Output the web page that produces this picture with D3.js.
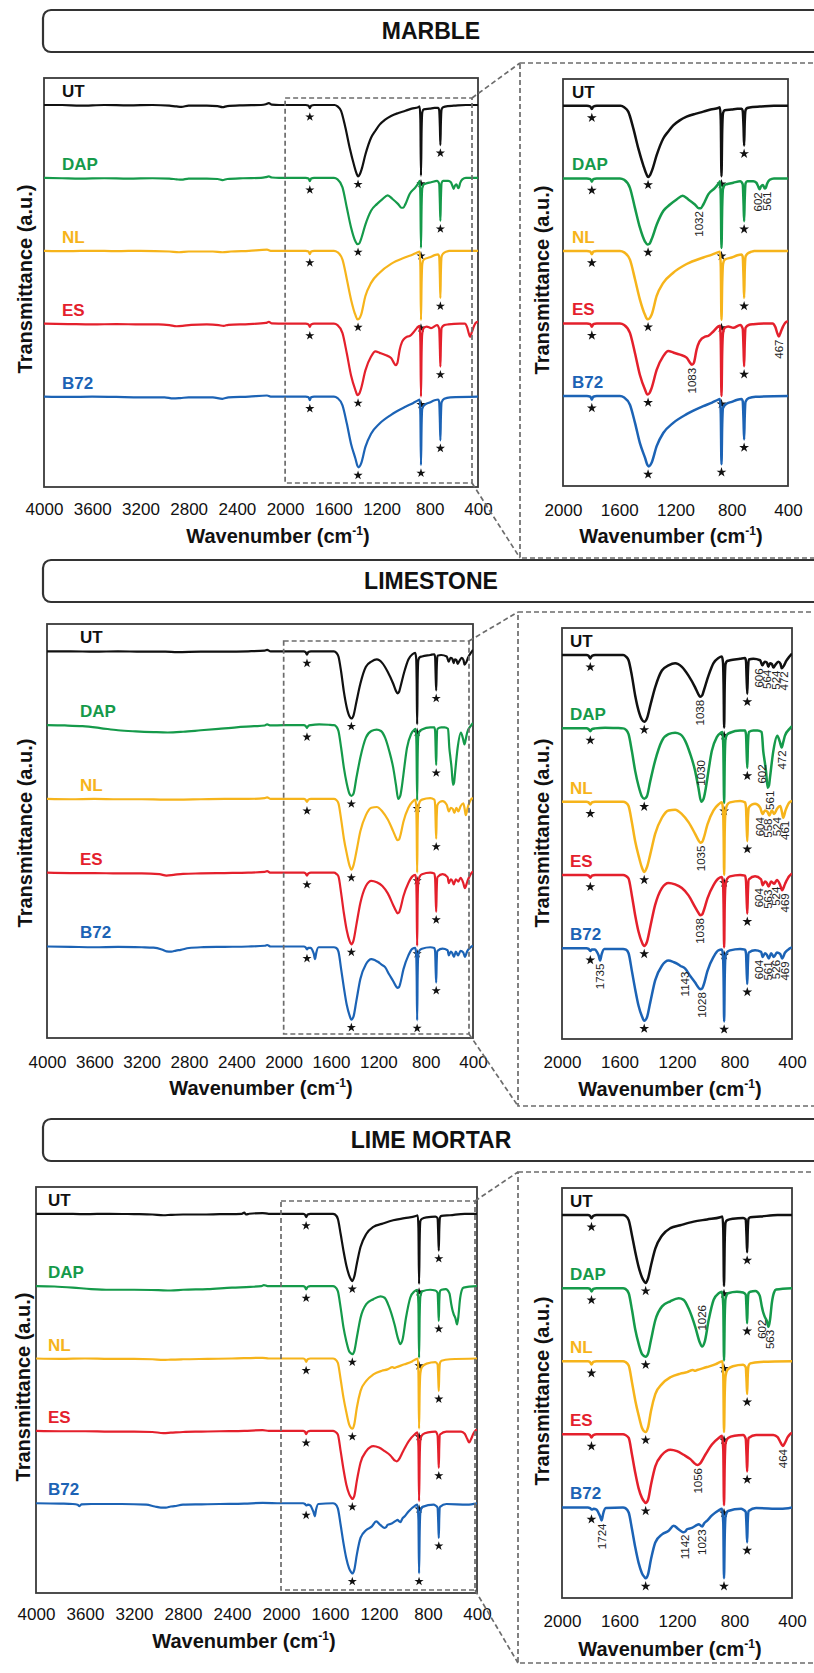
<!DOCTYPE html>
<html>
<head>
<meta charset="utf-8">
<script src="https://cdn.jsdelivr.net/npm/d3@7"></script>
<style>
body { margin: 0; background: #fff; }
text { font-family: "Liberation Sans", Arial, Helvetica, sans-serif; }
</style>
</head>
<body>
<div id="chart"></div>
<script>

// samples, colours and ticks
const samples = ["UT", "DAP", "NL", "ES", "B72"];
const sampleColors = ["#111111", "#159a4a", "#f6b41b", "#e4202c", "#1c63b5"];
const sampleOffsets = [0, -1, -2, -3, -4];
const sectionNames = ["MARBLE", "LIMESTONE", "LIME MORTAR"];
const ticksFull = [4000, 3600, 3200, 2800, 2400, 2000, 1600, 1200, 800, 400];
const ticksZoom = [2000, 1600, 1200, 800, 400];

// spectra: [wavenumber, offset transmittance]
const marbleUT = [[4000,0],[3850,0],[3700,-0.01],[3500,0],[3300,-0.005],[3100,0],[2960,-0.01],[2900,-0.02],[2860,-0.025],[2800,-0.01],[2650,-0.01],[2560,-0.015],[2520,-0.03],[2480,-0.015],[2350,-0.005],[2200,0],[2160,0.01],[2135,0.025],[2110,0.005],[2050,0],[1900,0],[1830,0],[1805,-0.01],[1795,-0.045],[1785,-0.01],[1760,0],[1590,0],[1565,-0.02],[1536,-0.08],[1500,-0.31],[1464,-0.59],[1429,-0.82],[1405,-0.95],[1395,-0.98],[1380,-0.95],[1365,-0.88],[1334,-0.68],[1287,-0.45],[1250,-0.35],[1216,-0.27],[1170,-0.2],[1121,-0.15],[1060,-0.11],[1002,-0.08],[950,-0.05],[896,-0.03],[884,-0.02],[878,-0.2],[873,-0.97],[868,-0.35],[862,-0.1],[850,-0.06],[800,-0.05],[760,-0.04],[730,-0.04],[722,-0.07],[716,-0.3],[712,-0.55],[708,-0.25],[702,-0.06],[690,-0.03],[650,-0.015],[600,-0.01],[500,0],[400,0]];
const marbleDAP = [[4000,0],[3850,-0.005],[3700,-0.01],[3500,-0.005],[3300,-0.01],[3100,-0.005],[2960,-0.01],[2900,-0.02],[2860,-0.025],[2800,-0.01],[2650,-0.01],[2560,-0.015],[2520,-0.03],[2480,-0.015],[2350,-0.005],[2200,0],[2160,0.01],[2135,0.02],[2110,0.005],[2050,0],[1900,0],[1830,0],[1805,-0.01],[1795,-0.045],[1785,-0.01],[1760,0],[1595,0],[1565,-0.02],[1524,-0.13],[1488,-0.41],[1453,-0.68],[1417,-0.87],[1400,-0.91],[1385,-0.9],[1370,-0.84],[1334,-0.64],[1287,-0.45],[1239,-0.36],[1192,-0.29],[1149,-0.24],[1109,-0.29],[1062,-0.36],[1035,-0.41],[1020,-0.41],[1002,-0.36],[967,-0.22],[919,-0.13],[890,-0.06],[884,-0.04],[878,-0.25],[873,-0.96],[868,-0.4],[862,-0.14],[850,-0.09],[836,-0.08],[789,-0.06],[740,-0.04],[722,-0.08],[716,-0.35],[712,-0.59],[708,-0.3],[702,-0.07],[690,-0.04],[647,-0.04],[625,-0.06],[610,-0.12],[602,-0.15],[592,-0.11],[578,-0.09],[565,-0.14],[558,-0.13],[548,-0.07],[530,-0.02],[500,0],[400,0]];
const marbleNL = [[4000,0],[3800,-0.005],[3600,0],[3400,-0.005],[3200,0],[2960,-0.01],[2880,-0.02],[2800,-0.01],[2600,-0.01],[2520,-0.02],[2450,-0.01],[2300,0],[2150,0.015],[2120,0],[2000,0],[1830,0],[1805,-0.01],[1795,-0.045],[1785,-0.01],[1760,0],[1595,0],[1565,-0.02],[1524,-0.12],[1488,-0.39],[1453,-0.67],[1417,-0.88],[1400,-0.94],[1385,-0.93],[1370,-0.88],[1334,-0.62],[1287,-0.44],[1216,-0.3],[1121,-0.18],[1002,-0.09],[940,-0.05],[900,-0.02],[884,-0.01],[878,-0.22],[873,-0.95],[868,-0.45],[862,-0.18],[850,-0.12],[800,-0.09],[760,-0.06],[730,-0.05],[722,-0.08],[716,-0.38],[712,-0.65],[708,-0.3],[702,-0.08],[690,-0.04],[660,-0.01],[640,0],[400,0]];
const marbleES = [[4000,0],[3800,-0.005],[3600,-0.01],[3400,-0.005],[3200,-0.01],[3050,-0.01],[2960,-0.02],[2900,-0.035],[2850,-0.03],[2780,-0.015],[2650,-0.01],[2550,-0.02],[2510,-0.03],[2470,-0.015],[2300,-0.005],[2160,0.01],[2135,0.025],[2110,0.005],[2000,0],[1830,0],[1805,-0.01],[1795,-0.045],[1785,-0.01],[1760,0],[1595,0],[1565,-0.02],[1524,-0.13],[1488,-0.41],[1453,-0.71],[1417,-0.91],[1400,-0.98],[1385,-0.96],[1370,-0.89],[1334,-0.64],[1287,-0.45],[1251,-0.38],[1216,-0.4],[1168,-0.43],[1121,-0.47],[1100,-0.53],[1083,-0.57],[1069,-0.54],[1050,-0.36],[1030,-0.25],[1014,-0.21],[990,-0.18],[967,-0.17],[931,-0.11],[896,-0.04],[884,-0.03],[878,-0.25],[873,-1.0],[868,-0.4],[862,-0.13],[850,-0.06],[825,-0.04],[789,-0.06],[740,-0.02],[722,-0.07],[716,-0.35],[712,-0.59],[708,-0.3],[702,-0.06],[680,-0.02],[647,-0.01],[550,0],[510,0],[490,-0.05],[475,-0.14],[465,-0.18],[452,-0.12],[435,-0.04],[420,0.01],[400,0.03]];
const marbleB72 = [[4000,0],[3800,-0.005],[3600,0],[3400,-0.005],[3200,-0.01],[3000,-0.01],[2930,-0.025],[2870,-0.02],[2800,-0.01],[2600,-0.01],[2520,-0.03],[2470,-0.01],[2300,0],[2150,0.015],[2120,0],[2000,0],[1830,0],[1805,-0.01],[1795,-0.05],[1785,-0.01],[1760,0],[1595,0],[1565,-0.02],[1524,-0.12],[1488,-0.37],[1453,-0.65],[1417,-0.85],[1400,-0.95],[1390,-0.97],[1370,-0.92],[1334,-0.69],[1287,-0.51],[1216,-0.37],[1121,-0.25],[1002,-0.14],[940,-0.09],[896,-0.05],[884,-0.04],[878,-0.25],[873,-0.94],[868,-0.4],[862,-0.16],[840,-0.11],[800,-0.08],[760,-0.05],[730,-0.04],[722,-0.07],[716,-0.35],[712,-0.6],[708,-0.3],[702,-0.08],[680,-0.03],[630,-0.01],[400,0]];

const limeUT = [[4000,0],[3800,0],[3600,-0.005],[3400,0],[3200,-0.005],[3000,-0.005],[2900,-0.01],[2700,-0.005],[2500,-0.005],[2300,0],[2160,0.01],[2140,0.02],[2110,0],[2000,0],[1830,0],[1815,-0.01],[1803,-0.045],[1792,-0.01],[1770,0],[1575,0],[1555,-0.02],[1537,-0.07],[1514,-0.28],[1491,-0.55],[1467,-0.76],[1444,-0.88],[1428,-0.91],[1410,-0.87],[1386,-0.69],[1352,-0.44],[1305,-0.21],[1259,-0.14],[1213,-0.11],[1166,-0.16],[1120,-0.28],[1074,-0.44],[1050,-0.54],[1039,-0.57],[1025,-0.55],[1016,-0.5],[981,-0.28],[946,-0.11],[912,-0.04],[888,-0.02],[880,-0.1],[876,-0.4],[872,-0.99],[868,-0.4],[862,-0.12],[850,-0.08],[831,-0.07],[761,-0.05],[727,-0.04],[720,-0.08],[716,-0.3],[711,-0.53],[707,-0.25],[700,-0.06],[669,-0.05],[622,-0.07],[606,-0.14],[590,-0.09],[575,-0.1],[564,-0.16],[553,-0.11],[540,-0.12],[530,-0.17],[518,-0.14],[495,-0.09],[480,-0.12],[472,-0.18],[455,-0.14],[440,-0.08],[418,-0.02],[400,0.02]];
const limeDAP = [[4000,0],[3850,-0.005],[3700,-0.015],[3550,-0.04],[3400,-0.07],[3250,-0.085],[3100,-0.095],[2980,-0.1],[2850,-0.09],[2700,-0.07],[2550,-0.05],[2400,-0.03],[2250,-0.015],[2160,-0.005],[2140,0.01],[2110,-0.005],[2000,0],[1830,0],[1815,-0.01],[1803,-0.04],[1792,-0.01],[1770,0],[1700,0.01],[1620,0.005],[1575,0],[1555,-0.02],[1537,-0.08],[1514,-0.31],[1491,-0.58],[1467,-0.79],[1444,-0.93],[1428,-0.96],[1410,-0.93],[1386,-0.72],[1352,-0.44],[1305,-0.17],[1259,-0.08],[1213,-0.06],[1178,-0.08],[1143,-0.17],[1108,-0.35],[1074,-0.58],[1051,-0.81],[1032,-1.0],[1015,-0.96],[1000,-0.82],[988,-0.67],[958,-0.31],[923,-0.12],[895,-0.06],[884,-0.05],[878,-0.25],[872,-1.02],[868,-0.45],[862,-0.14],[850,-0.08],[831,-0.06],[761,-0.03],[727,-0.03],[720,-0.08],[716,-0.3],[711,-0.54],[707,-0.25],[700,-0.05],[669,-0.03],[640,-0.03],[611,-0.05],[600,-0.31],[590,-0.45],[581,-0.58],[569,-0.81],[560,-0.78],[553,-0.67],[530,-0.31],[502,-0.1],[485,-0.18],[472,-0.26],[460,-0.18],[449,-0.1],[414,0],[400,0.03]];
const limeNL = [[4000,0],[3800,-0.005],[3600,0],[3400,-0.005],[3200,-0.005],[3000,-0.01],[2900,-0.01],[2700,-0.005],[2500,0],[2300,0],[2160,0.01],[2140,0.02],[2110,0],[2000,0],[1830,0],[1815,-0.01],[1803,-0.04],[1792,-0.01],[1770,0],[1575,0],[1555,-0.015],[1537,-0.06],[1514,-0.28],[1491,-0.54],[1467,-0.74],[1444,-0.9],[1428,-0.96],[1410,-0.9],[1386,-0.72],[1352,-0.44],[1305,-0.22],[1259,-0.12],[1213,-0.11],[1166,-0.17],[1120,-0.28],[1074,-0.44],[1050,-0.53],[1039,-0.56],[1025,-0.55],[1016,-0.51],[988,-0.31],[946,-0.12],[912,-0.04],[888,-0.01],[880,-0.1],[876,-0.4],[872,-1.0],[868,-0.4],[862,-0.12],[850,-0.04],[831,-0.01],[761,0.01],[727,-0.01],[720,-0.08],[716,-0.3],[711,-0.54],[707,-0.25],[700,-0.08],[680,-0.04],[657,-0.03],[622,-0.08],[604,-0.17],[588,-0.12],[570,-0.14],[558,-0.19],[540,-0.12],[524,-0.17],[505,-0.1],[482,-0.06],[470,-0.14],[461,-0.22],[445,-0.12],[418,-0.01],[400,0.01]];
const limeES = [[4000,0],[3800,-0.005],[3600,-0.005],[3400,-0.01],[3200,-0.01],[3050,-0.02],[2990,-0.04],[2930,-0.03],[2850,-0.015],[2700,-0.01],[2500,-0.005],[2300,0],[2160,0.01],[2140,0.02],[2110,0],[2000,0],[1830,0],[1815,-0.01],[1803,-0.04],[1792,-0.01],[1770,0],[1575,0],[1555,-0.015],[1537,-0.05],[1514,-0.28],[1491,-0.55],[1467,-0.78],[1444,-0.92],[1428,-0.97],[1410,-0.92],[1386,-0.71],[1352,-0.41],[1305,-0.18],[1259,-0.11],[1213,-0.13],[1166,-0.18],[1120,-0.28],[1074,-0.44],[1050,-0.52],[1039,-0.55],[1025,-0.54],[1016,-0.5],[988,-0.32],[946,-0.14],[912,-0.05],[888,-0.03],[880,-0.1],[876,-0.4],[872,-0.99],[868,-0.4],[862,-0.12],[850,-0.05],[831,-0.02],[761,0],[727,-0.01],[720,-0.08],[716,-0.3],[711,-0.53],[707,-0.25],[700,-0.06],[657,-0.02],[615,-0.06],[604,-0.14],[588,-0.09],[575,-0.11],[563,-0.16],[545,-0.09],[524,-0.12],[505,-0.07],[482,-0.14],[469,-0.21],[448,-0.12],[420,-0.02],[400,0.02]];
const limeB72 = [[4000,0],[3800,-0.005],[3600,-0.01],[3400,-0.005],[3200,-0.01],[3100,-0.015],[3030,-0.04],[2990,-0.065],[2950,-0.07],[2910,-0.055],[2870,-0.045],[2800,-0.02],[2700,-0.01],[2500,-0.005],[2300,0],[2160,0.01],[2140,0.02],[2110,0],[2000,0],[1830,0],[1815,-0.01],[1803,-0.04],[1792,-0.02],[1770,-0.02],[1757,-0.05],[1745,-0.1],[1735,-0.17],[1724,-0.08],[1705,-0.01],[1575,-0.01],[1555,-0.02],[1537,-0.07],[1514,-0.31],[1491,-0.56],[1467,-0.79],[1444,-0.93],[1428,-0.99],[1410,-0.95],[1386,-0.74],[1352,-0.44],[1305,-0.24],[1259,-0.17],[1224,-0.19],[1200,-0.21],[1178,-0.24],[1143,-0.28],[1108,-0.38],[1074,-0.47],[1050,-0.54],[1039,-0.56],[1025,-0.55],[1016,-0.51],[988,-0.31],[946,-0.12],[912,-0.03],[888,-0.02],[880,-0.1],[876,-0.4],[872,-1.0],[868,-0.4],[862,-0.1],[850,-0.05],[831,-0.03],[761,-0.01],[727,-0.02],[720,-0.07],[716,-0.28],[711,-0.49],[707,-0.22],[700,-0.06],[657,-0.03],[615,-0.05],[604,-0.12],[588,-0.07],[575,-0.09],[561,-0.14],[545,-0.07],[526,-0.12],[505,-0.06],[482,-0.08],[469,-0.14],[448,-0.06],[420,-0.01],[400,0.01]];

const mortarUT = [[4000,0],[3800,0],[3600,-0.005],[3400,0],[3200,-0.005],[3050,-0.01],[2960,-0.02],[2900,-0.015],[2800,-0.01],[2650,-0.01],[2500,-0.005],[2320,0],[2300,0.015],[2285,-0.01],[2260,0],[2150,0.01],[2100,0],[2000,0],[1820,0],[1805,-0.01],[1795,-0.045],[1782,-0.01],[1760,0],[1575,0],[1559,-0.01],[1536,-0.07],[1513,-0.28],[1490,-0.51],[1467,-0.71],[1444,-0.85],[1428,-0.91],[1418,-0.93],[1402,-0.87],[1381,-0.69],[1351,-0.46],[1304,-0.28],[1246,-0.18],[1177,-0.14],[1084,-0.09],[991,-0.06],[899,-0.03],[884,-0.02],[878,-0.2],[873,-0.97],[868,-0.35],[862,-0.1],[850,-0.07],[811,-0.05],[740,-0.04],[722,-0.06],[716,-0.3],[712,-0.51],[708,-0.22],[702,-0.05],[690,-0.03],[620,-0.02],[500,0],[400,0]];
const mortarDAP = [[4000,0],[3850,-0.005],[3700,-0.02],[3550,-0.04],[3400,-0.05],[3200,-0.05],[3000,-0.055],[2900,-0.06],[2800,-0.05],[2600,-0.04],[2400,-0.02],[2250,-0.01],[2160,0],[2140,0.015],[2110,0],[2000,0],[1820,0],[1805,-0.01],[1795,-0.045],[1782,-0.01],[1760,0],[1575,0],[1559,-0.01],[1536,-0.07],[1513,-0.3],[1490,-0.57],[1467,-0.76],[1444,-0.9],[1428,-0.93],[1418,-0.94],[1402,-0.9],[1381,-0.71],[1351,-0.44],[1304,-0.25],[1246,-0.18],[1188,-0.14],[1154,-0.16],[1119,-0.28],[1073,-0.53],[1042,-0.74],[1026,-0.8],[1008,-0.74],[980,-0.44],[945,-0.16],[910,-0.07],[887,-0.05],[878,-0.25],[873,-0.99],[868,-0.4],[862,-0.14],[845,-0.07],[783,-0.05],[740,-0.06],[722,-0.09],[716,-0.3],[712,-0.48],[708,-0.22],[702,-0.07],[690,-0.05],[655,-0.04],[625,-0.1],[610,-0.25],[602,-0.32],[590,-0.39],[575,-0.45],[563,-0.53],[552,-0.42],[540,-0.2],[525,-0.06],[510,-0.02],[400,0]];
const mortarNL = [[4000,0],[3800,-0.005],[3600,0],[3400,-0.005],[3200,-0.005],[3050,-0.01],[2960,-0.02],[2900,-0.015],[2800,-0.01],[2600,-0.005],[2400,0],[2150,0.01],[2100,0],[2000,0],[1820,0],[1805,-0.01],[1795,-0.045],[1782,-0.01],[1760,0],[1575,0],[1559,-0.01],[1536,-0.06],[1513,-0.29],[1490,-0.54],[1467,-0.74],[1444,-0.91],[1428,-0.96],[1418,-0.97],[1402,-0.91],[1381,-0.68],[1351,-0.45],[1304,-0.31],[1246,-0.22],[1177,-0.17],[1130,-0.15],[1090,-0.12],[1075,-0.13],[1060,-0.12],[991,-0.08],[930,-0.04],[899,-0.01],[884,0],[878,-0.2],[873,-0.97],[868,-0.45],[862,-0.2],[850,-0.12],[811,-0.07],[740,-0.05],[722,-0.08],[716,-0.28],[712,-0.45],[708,-0.2],[702,-0.06],[690,-0.03],[620,-0.01],[400,0]];
const mortarES = [[4000,0],[3800,-0.005],[3600,-0.005],[3400,-0.01],[3200,-0.01],[3050,-0.015],[2960,-0.03],[2900,-0.025],[2800,-0.015],[2650,-0.01],[2500,-0.005],[2300,0],[2150,0.01],[2100,0],[2000,0],[1820,0],[1805,-0.01],[1795,-0.045],[1782,-0.01],[1760,0],[1575,0],[1559,-0.01],[1536,-0.05],[1513,-0.28],[1490,-0.53],[1467,-0.74],[1444,-0.87],[1428,-0.92],[1418,-0.94],[1402,-0.9],[1381,-0.69],[1351,-0.44],[1304,-0.28],[1246,-0.21],[1200,-0.23],[1154,-0.28],[1107,-0.34],[1070,-0.41],[1056,-0.42],[1040,-0.4],[1003,-0.28],[957,-0.14],[910,-0.05],[887,-0.02],[878,-0.22],[873,-0.97],[868,-0.4],[862,-0.12],[845,-0.05],[800,-0.02],[740,-0.01],[722,-0.06],[716,-0.3],[712,-0.51],[708,-0.22],[702,-0.05],[650,-0.01],[530,-0.01],[500,-0.04],[480,-0.11],[464,-0.16],[450,-0.12],[430,-0.04],[415,0],[400,0.02]];
const mortarB72 = [[4000,0],[3800,-0.005],[3700,-0.01],[3660,-0.02],[3645,-0.04],[3630,-0.015],[3550,-0.01],[3300,-0.01],[3100,-0.02],[3030,-0.045],[2980,-0.06],[2940,-0.06],[2900,-0.045],[2870,-0.04],[2800,-0.02],[2650,-0.015],[2500,-0.01],[2300,-0.005],[2150,0.005],[2000,0],[1820,0],[1805,-0.01],[1793,-0.03],[1780,-0.02],[1760,-0.03],[1745,-0.08],[1735,-0.12],[1724,-0.18],[1714,-0.09],[1695,-0.01],[1575,0],[1559,-0.01],[1536,-0.07],[1513,-0.3],[1490,-0.55],[1467,-0.76],[1444,-0.9],[1428,-0.95],[1418,-0.97],[1402,-0.92],[1381,-0.71],[1351,-0.48],[1304,-0.37],[1258,-0.32],[1223,-0.25],[1189,-0.3],[1158,-0.34],[1142,-0.33],[1130,-0.3],[1096,-0.28],[1060,-0.24],[1049,-0.23],[1035,-0.25],[1023,-0.26],[1012,-0.22],[990,-0.18],[957,-0.11],[910,-0.04],[887,-0.02],[878,-0.22],[873,-0.97],[868,-0.4],[862,-0.12],[845,-0.05],[754,-0.02],[740,-0.03],[722,-0.06],[716,-0.28],[712,-0.48],[708,-0.2],[702,-0.05],[650,-0.01],[480,-0.02],[400,0]];

// calcite bands marked with a star
const marbleStars = [1795, 1395, 873, 712];
const limeStars = [1803, 1428, 872, 711];
const mortarStars = [1795, 1418, 873, 712];

// peak labels in the zoomed panels (one list per sample)
const marblePeaks = [[], [1032, 602, 561], [], [1083, 467], []];
const limePeaks = [[1038, 606, 564, 524, 472], [1030, 602, 561, 472], [1035, 604, 558, 524, 461], [1038, 604, 563, 524, 469], [1735, 1143, 1028, 604, 561, 526, 469]];
const mortarPeaks = [[], [1026, 602, 563], [], [1056, 464], [1724, 1142, 1023]];
const peaksAbove = [1030, 1026];

var spectra = [
	[marbleUT, marbleDAP, marbleNL, marbleES, marbleB72],
	[limeUT, limeDAP, limeNL, limeES, limeB72],
	[mortarUT, mortarDAP, mortarNL, mortarES, mortarB72]
];
var stars = [marbleStars, limeStars, mortarStars];
var peaks = [marblePeaks, limePeaks, mortarPeaks];

var width = 814,
height = 1673,
yDomain = [-5.24, 0.37];

var layouts = [
	{ titleY: 10,
	  L: {x0:44, x1:478, y0:78, y1:487, tickY:515, axisY:543, axisX:278, yt:[25,279], labelX:62},
	  R: {x0:563, x1:788, y0:79, y1:486, tickY:516, axisY:543, axisX:671, yt:[542,280], labelX:572},
	  inner: {x1:472, y0:98, y1:483}, outer: {x0:520, y0:63, y1:558} },
	{ titleY: 560,
	  L: {x0:47, x1:473, y0:624, y1:1038, tickY:1068, axisY:1095, axisX:261, yt:[25,833], labelX:80},
	  R: {x0:562, x1:792, y0:628, y1:1039, tickY:1068, axisY:1096, axisX:670, yt:[542,833], labelX:570},
	  inner: {x1:469, y0:641, y1:1034}, outer: {x0:518, y0:612, y1:1106} },
	{ titleY: 1119,
	  L: {x0:36, x1:477, y0:1187, y1:1593, tickY:1620, axisY:1648, axisX:244, yt:[23,1387], labelX:48},
	  R: {x0:562, x1:792, y0:1188, y1:1598, tickY:1627, axisY:1656, axisX:670, yt:[542,1391], labelX:570},
	  inner: {x1:475, y0:1201, y1:1590}, outer: {x0:518, y0:1172, y1:1663} }
];

var svg = d3.select("#chart")
.append("svg")
.attr("width", width)
.attr("height", height);

var dashColor = "#6c6c6c";

// piecewise lookup of a spectrum
function interp(data) {
	return d3.scaleLinear()
	.domain(data.map(d => d[0]))
	.range(data.map(d => d[1]));
}

function localMin(data, wn, w) {
	var m = Infinity;
	data.forEach(function(d) {
		if (Math.abs(d[0] - wn) <= w && d[1] < m) m = d[1];
	});
	return m === Infinity ? interp(data)(wn) : m;
}

// push overlapping labels apart around their common centre
function spread(xs, gap) {
	var groups = xs.map(x => ({n: 1, c: x}));
	var changed = true;
	while (changed) {
		changed = false;
		for (var i = 0; i < groups.length - 1; i++) {
			var a = groups[i], b = groups[i + 1];
			var aRight = a.c + (a.n - 1) * gap / 2,
			bLeft = b.c - (b.n - 1) * gap / 2;
			if (bLeft - aRight < gap) {
				var n = a.n + b.n;
				groups.splice(i, 2, {n: n, c: (a.c * a.n + b.c * b.n) / n});
				changed = true;
				break;
			}
		}
	}
	var out = [];
	groups.forEach(function(g) {
		for (var k = 0; k < g.n; k++) out.push(g.c - (g.n - 1) * gap / 2 + k * gap);
	});
	return out;
}

function axisTitle(g, x, y) {
	var t = g.append("text")
	.attr("x", x)
	.attr("y", y)
	.attr("text-anchor", "middle")
	.style("font-size", "20px")
	.style("font-weight", "bold")
	.attr("fill", "#111");
	t.append("tspan").text("Wavenumber (cm");
	t.append("tspan").attr("dy", -8).style("font-size", "12px").text("-1");
	t.append("tspan").attr("dy", 8).text(")");
}

//Draw one spectra panel
function drawPanel(si, box, zoomed) {
	var data = spectra[si];
	var g = svg.append("g");
	var clipId = "clip" + si + (zoomed ? "z" : "f");

	var xScale = d3.scaleLinear()
	.domain(zoomed ? [2000, 400] : [4000, 400])
	.range([box.x0, box.x1]);

	var yScale = d3.scaleLinear()
	.domain(yDomain)
	.range([box.y1, box.y0]);

	g.append("clipPath")
	.attr("id", clipId)
	.append("rect")
	.attr("x", box.x0)
	.attr("y", box.y0)
	.attr("width", box.x1 - box.x0)
	.attr("height", box.y1 - box.y0);

	//Frame
	g.append("rect")
	.attr("x", box.x0)
	.attr("y", box.y0)
	.attr("width", box.x1 - box.x0)
	.attr("height", box.y1 - box.y0)
	.attr("fill", "none")
	.attr("stroke", "#3a3a3a")
	.attr("stroke-width", 1.8);

	//Lines
	data.forEach(function(series, i) {
		var line = d3.line()
		.x(d => xScale(d[0]))
		.y(d => yScale(d[1] + sampleOffsets[i]))
		.curve(d3.curveMonotoneX);

		g.append("path")
		.attr("d", line(series))
		.attr("clip-path", "url(#" + clipId + ")")
		.attr("fill", "none")
		.attr("stroke", sampleColors[i])
		.attr("stroke-width", zoomed ? 2.5 : 2.2)
		.attr("stroke-linejoin", "round");

		//Sample name
		g.append("text")
		.attr("x", box.labelX)
		.attr("y", yScale(sampleOffsets[i]) - 8)
		.attr("fill", sampleColors[i])
		.style("font-size", "17px")
		.style("font-weight", "bold")
		.text(samples[i]);

		//Stars under the calcite bands
		stars[si].forEach(function(wn) {
			var yMin = yScale(localMin(series, wn, 10) + sampleOffsets[i]);
			var yBase = yScale(sampleOffsets[i]);
			g.append("path")
			.attr("d", d3.symbol(d3.symbolStar, zoomed ? 30 : 26)())
			.attr("transform", `translate(${xScale(wn)},${Math.max(yMin + 8, yBase + 12)})`)
			.attr("fill", "#111");
		});

		//Peak labels
		if (zoomed) {
			var list = peaks[si][i].slice().sort((a, b) => b - a);
			var xs = spread(list.map(wn => xScale(wn)), 8.5);
			list.forEach(function(wn, k) {
				var above = peaksAbove.indexOf(wn) >= 0;
				var yMin = yScale(localMin(series, wn, 12) + sampleOffsets[i]);
				g.append("text")
				.attr("transform", `translate(${xs[k]},${above ? yMin - 16 : yMin + 3}) rotate(-90)`)
				.attr("dy", "0.35em")
				.attr("text-anchor", above ? "start" : "end")
				.attr("fill", "#222")
				.style("font-size", "11.5px")
				.text(wn);
			});
		}
	});

	//X axis labels
	var xAxis = d3.axisBottom(xScale)
	.tickValues(zoomed ? ticksZoom : ticksFull)
	.tickSize(0)
	.tickFormat(d3.format("d"));

	var ax = g.append("g")
	.attr("transform", `translate(0,${box.tickY})`)
	.call(xAxis);
	ax.select(".domain").remove();
	ax.selectAll("text")
	.attr("y", 0)
	.attr("dy", 0)
	.attr("fill", "#111")
	.style("font-size", "17px")
	.style("font-family", "'Liberation Sans', Arial, sans-serif");

	axisTitle(g, box.axisX, box.axisY);

	//Y axis title
	g.append("text")
	.attr("transform", `translate(${box.yt[0]},${box.yt[1]}) rotate(-90)`)
	.attr("dy", "0.35em")
	.attr("text-anchor", "middle")
	.attr("fill", "#111")
	.style("font-size", "20px")
	.style("font-weight", "bold")
	.text("Transmittance (a.u.)");

	return xScale;
}

layouts.forEach(function(lay, si) {

	//Section title box
	svg.append("rect")
	.attr("x", 43)
	.attr("y", lay.titleY)
	.attr("width", 820)
	.attr("height", 42)
	.attr("rx", 8)
	.attr("fill", "none")
	.attr("stroke", "#333")
	.attr("stroke-width", 2.2);

	svg.append("text")
	.attr("x", 431)
	.attr("y", lay.titleY + 29)
	.attr("text-anchor", "middle")
	.attr("fill", "#111")
	.style("font-size", "23px")
	.style("font-weight", "bold")
	.text(sectionNames[si]);

	var xFull = drawPanel(si, lay.L, false);
	drawPanel(si, lay.R, true);

	//Zoom region box and connectors
	var ix0 = xFull(2000);
	svg.append("rect")
	.attr("x", ix0)
	.attr("y", lay.inner.y0)
	.attr("width", lay.inner.x1 - ix0)
	.attr("height", lay.inner.y1 - lay.inner.y0)
	.attr("fill", "none")
	.attr("stroke", dashColor)
	.attr("stroke-width", 1.7)
	.attr("stroke-dasharray", "5,3");

	svg.append("rect")
	.attr("x", lay.outer.x0)
	.attr("y", lay.outer.y0)
	.attr("width", 860 - lay.outer.x0)
	.attr("height", lay.outer.y1 - lay.outer.y0)
	.attr("fill", "none")
	.attr("stroke", dashColor)
	.attr("stroke-width", 1.7)
	.attr("stroke-dasharray", "5,3");

	[[lay.inner.y0, lay.outer.y0], [lay.inner.y1, lay.outer.y1]].forEach(function(p) {
		svg.append("line")
		.attr("x1", lay.inner.x1)
		.attr("y1", p[0])
		.attr("x2", lay.outer.x0)
		.attr("y2", p[1])
		.attr("stroke", dashColor)
		.attr("stroke-width", 1.7)
		.attr("stroke-dasharray", "5,3");
	});
});

</script>
</body>
</html>
